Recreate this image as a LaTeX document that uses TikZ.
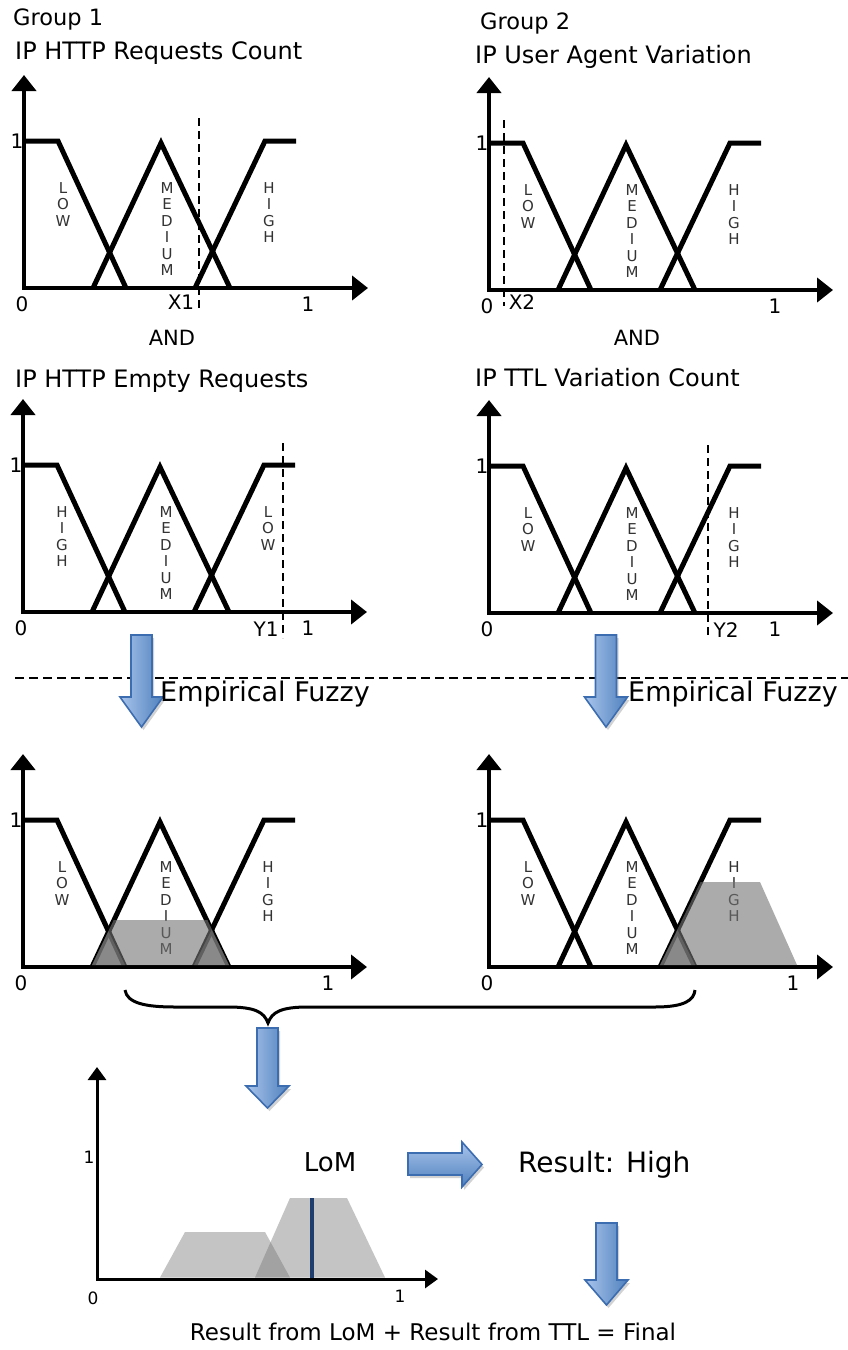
\documentclass[tikz,border=0pt]{standalone}
\usepackage{fontspec}
\setmainfont{DejaVu Sans}
\usetikzlibrary{arrows.meta,shadows}
\definecolor{blueL}{HTML}{A9C4EC}
\definecolor{blueD}{HTML}{4F81BD}
\definecolor{blueB}{HTML}{3C6DB0}
\definecolor{navyline}{HTML}{1F3E6E}
\tikzset{
 axisline/.style={line width=4pt, {Triangle[length=16pt,width=24pt]}-{Triangle[length=16pt,width=24pt]}},
 smallaxis/.style={line width=3pt, {Triangle[length=13pt,width=18pt]}-{Triangle[length=13pt,width=18pt]}},
 mfline/.style={line width=5pt, line join=miter, line cap=butt},
 vlbl/.style={align=center, inner sep=0pt, anchor=north, font=\fontsize{15}{16.5}\selectfont, text=black!80},
 axlbl/.style={inner sep=0pt, font=\fontsize{20}{22}\selectfont},
 smalllbl/.style={inner sep=0pt, font=\fontsize{17}{19}\selectfont},
 ttl/.style={inner sep=0pt, anchor=base west, font=\fontsize{24}{28}\selectfont},
 grp/.style={inner sep=0pt, anchor=base west, font=\fontsize{22.5}{26}\selectfont},
 cutline/.style={line width=2.3pt, dash pattern=on 8pt off 5pt},
 shadefill/.style={fill=black!55, fill opacity=0.6, draw=none},
 shadelight/.style={fill=black!55, fill opacity=0.42, draw=none},
 bluearrow/.style={left color=blueL, right color=blueD, draw=blueB, line width=1.6pt, line join=miter,
   drop shadow={opacity=0.35, shadow xshift=2pt, shadow yshift=-3pt}},
 bluearrowh/.style={top color=blueL, bottom color=blueD, draw=blueB, line width=1.6pt, line join=miter,
   drop shadow={opacity=0.35, shadow xshift=2pt, shadow yshift=-3pt}},
}
\newcommand\mfpanel[6]{%
\begin{scope}[shift={(#2,#3)}, yscale=-1]
 \coordinate (#1o) at (0,0);
 \coordinate (#1top) at (0,213);
 \coordinate (#1end) at (344,0);
 \draw[axisline] (#1top) -- (#1o) -- (#1end);
 \draw[mfline] (0,147) -- (34,147) -- (102,0);
 \draw[mfline] (69,0) -- (137,145) -- (206,0);
 \draw[mfline] (171,0) -- (241,147) -- (272,147);
 \node[vlbl] (#1l) at (39,106) {#4};
 \node[vlbl] (#1m) at (143,106) {M\\E\\D\\I\\U\\M};
 \node[vlbl] (#1r) at (245,106) {#5};
 \node[axlbl] (#1one) at (-7,147) {1};
 \node[axlbl] (#1zero) at (-2,-16) {0};
 \node[axlbl] (#1xone) at (#6,-16) {1};
\end{scope}}
\newcommand\bluedown[4]{%
 \path[bluearrow] (#1-10.5,#2) -- (#1+10.5,#2) -- (#1+10.5,#2+#3) -- (#1+21.5,#2+#3) -- (#1,#2+#3+#4)
   -- (#1-21.5,#2+#3) -- (#1-10.5,#2+#3) -- cycle;}
\begin{document}
\begin{tikzpicture}[x=1pt,y=-1pt]
\useasboundingbox[fill=white] (0,0) rectangle (848,1350);

% titles
\node[grp] (g1) at (13,25) {Group 1};
\node[grp] (g2) at (480,29) {Group 2};
\node[ttl] (t1) at (15,59) {IP HTTP Requests Count};
\node[ttl] (t2) at (475,63) {IP User Agent Variation};
\node[ttl] (t3) at (15,387) {IP HTTP Empty Requests};
\node[ttl] (t4) at (475,386) {IP TTL Variation Count};
\node[inner sep=0pt, font=\fontsize{21}{24}\selectfont] (and1) at (172,338) {AND};
\node[inner sep=0pt, font=\fontsize{21}{24}\selectfont] (and2) at (637,338) {AND};

% panels
\mfpanel{pa}{24}{288}{L\\O\\W}{H\\I\\G\\H}{284}
\mfpanel{pb}{489}{290}{L\\O\\W}{H\\I\\G\\H}{286}
\mfpanel{pc}{23}{612}{H\\I\\G\\H}{L\\O\\W}{285}
\mfpanel{pd}{489}{613}{L\\O\\W}{H\\I\\G\\H}{286}
\mfpanel{pe}{23}{967}{L\\O\\W}{H\\I\\G\\H}{305}
\mfpanel{pf}{489}{967}{L\\O\\W}{H\\I\\G\\H}{304}

% input cuts
\draw[cutline] (199,118) -- (199,308);
\node[axlbl] (x1) at (181,302) {X1};
\draw[cutline] (504,120) -- (504,306);
\node[axlbl] (x2) at (522,302) {X2};
\draw[cutline] (283,443) -- (283,638);
\node[axlbl] (y1) at (266,629) {Y1};
\draw[cutline] (708,445) -- (708,637);
\node[axlbl] (y2) at (726,630) {Y2};

% separator and empirical fuzzy
\draw[cutline, dash pattern=on 9pt off 5pt] (15,678) -- (848,678);
\bluedown{141.5}{635}{62}{30}
\bluedown{606}{635}{62}{30}
\node[inner sep=0pt, anchor=base west, font=\fontsize{27}{30}\selectfont] (ef1) at (160,701) {Empirical Fuzzy};
\node[inner sep=0pt, anchor=base west, font=\fontsize{27}{30}\selectfont] (ef2) at (628,701) {Empirical Fuzzy};

% shaded results
\begin{scope}[shift={(23,967)}, yscale=-1]
 \fill[shadefill] (69,2) -- (90.7,47) -- (184.4,47) -- (206,2) -- cycle;
 \fill[shadefill] (69,2) -- (85.5,35.7) -- (102,2) -- cycle;
 \fill[shadefill] (171,2) -- (188.6,37) -- (206,2) -- cycle;
\end{scope}
\begin{scope}[shift={(489,967)}, yscale=-1]
 \fill[shadefill] (171,2) -- (211.5,85) -- (271,85) -- (308,2) -- cycle;
 \fill[shadefill] (171,2) -- (188.6,37) -- (206,2) -- cycle;
\end{scope}

% brace
\coordinate (brL) at (125,990);
\coordinate (brT) at (268,1023);
\coordinate (brR) at (695,990);
\draw[line width=3pt] (brL) .. controls (127,1003) and (145,1007) .. (175,1007) -- (228,1007)
  .. controls (255,1007) and (264,1012) .. (brT) .. controls (272,1012) and (281,1007) .. (308,1007)
  -- (655,1007) .. controls (685,1007) and (694,1000) .. (brR);
\bluedown{267.5}{1028}{58}{22}

% LoM chart
\begin{scope}[shift={(97,1279)}, yscale=-1]
 \fill[shadelight] (63,1.5) -- (88,47) -- (168,47) -- (193,1.5) -- cycle;
 \fill[shadelight] (158,1.5) -- (193,81) -- (250,81) -- (288,1.5) -- cycle;
 \coordinate (lomb) at (215,0);
 \coordinate (lomt) at (215,81);
 \draw[navyline, line width=3.2pt] (lomb) -- (lomt);
 \coordinate (bo) at (0,0);
 \coordinate (btop) at (0,212);
 \coordinate (bend) at (341,0);
 \draw[smallaxis] (btop) -- (bo) -- (bend);
 \node[smalllbl] (bone) at (-8,122) {1};
 \node[smalllbl] (bzero) at (-4,-19) {0};
 \node[smalllbl] (bxone) at (303,-17) {1};
\end{scope}

\node[inner sep=0pt, font=\fontsize{26}{30}\selectfont] (lom) at (330,1162) {LoM};
\path[bluearrowh] (408,1153) -- (462,1153) -- (462,1142) -- (482,1164.5) -- (462,1187) -- (462,1175) -- (408,1175) -- cycle;
\node[inner sep=0pt, anchor=base west, font=\fontsize{28}{32}\selectfont] (res) at (518,1172) {Result: High};
\bluedown{606.5}{1223}{57}{25}
\node[inner sep=0pt, anchor=base, font=\fontsize{23}{26}\selectfont] (final) at (433,1340) {Result from LoM + Result from TTL = Final};
\end{tikzpicture}
\end{document}
